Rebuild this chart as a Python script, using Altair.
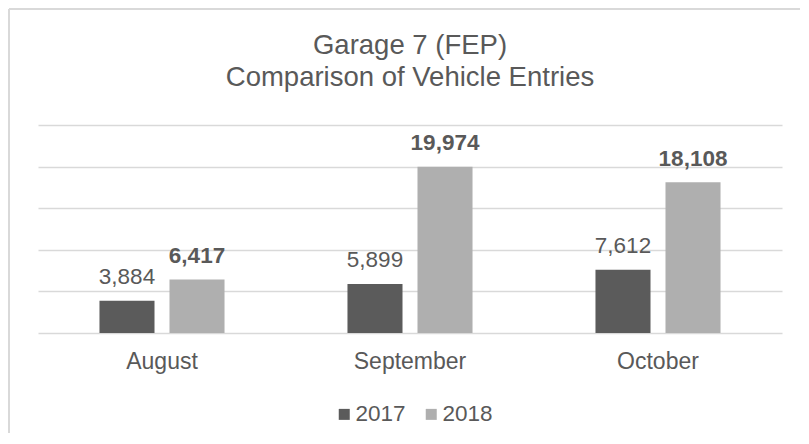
import altair as alt
import pandas as pd

months = ["August", "September", "October"]
years = ["2017", "2018"]
values_2017 = [3884, 5899, 7612]
values_2018 = [6417, 19974, 18108]

rows = []
for m, a, b in zip(months, values_2017, values_2018):
    rows.append({"month": m, "year": "2017", "value": a})
    rows.append({"month": m, "year": "2018", "value": b})
df = pd.DataFrame(rows)

FONT = "Liberation Sans"
TXT = "#595959"
GRID = "#d9d9d9"

x_enc = alt.X("month:N", sort=months,
              scale=alt.Scale(paddingInner=0, paddingOuter=0),
              axis=alt.Axis(title=None, ticks=False, tickSize=0, domain=False, grid=False,
                            labelAngle=0, labelFont=FONT, labelFontSize=23, labelColor=TXT,
                            labelPadding=17, labelBaseline="top"))
xo_enc = alt.XOffset("year:N", sort=years,
                     scale=alt.Scale(paddingInner=0.214, paddingOuter=0.878))
y_enc = alt.Y("value:Q", scale=alt.Scale(domain=[0, 25000], nice=False),
              axis=alt.Axis(title=None, labels=False, ticks=False, domain=False,
                            values=[0, 5000, 10000, 15000, 20000, 25000],
                            grid=True, gridColor=GRID, gridWidth=1.5))

bars = alt.Chart(df).mark_bar().encode(
    x=x_enc, xOffset=xo_enc, y=y_enc,
    color=alt.Color("year:N", sort=years,
                    scale=alt.Scale(domain=years, range=["#5b5b5b", "#afafaf"]),
                    legend=alt.Legend(title=None, orient="none", direction="horizontal",
                                      legendX=295, legendY=278,
                                      symbolType="square", symbolSize=121,
                                      symbolStrokeWidth=0, labelOffset=0,
                                      columnPadding=14,
                                      labelFont=FONT, labelFontSize=22.5, labelColor=TXT)),
)

text17 = alt.Chart(df).transform_filter(alt.datum.year == "2017").mark_text(
    font=FONT, fontSize=22.5, color=TXT, baseline="alphabetic", dy=-16.5
).encode(x=x_enc, xOffset=xo_enc, y=y_enc, text=alt.Text("value:Q", format=","))

text18 = alt.Chart(df).transform_filter(alt.datum.year == "2018").mark_text(
    font=FONT, fontSize=22.5, fontWeight="bold", color=TXT, baseline="alphabetic", dy=-16.5
).encode(x=x_enc, xOffset=xo_enc, y=y_enc, text=alt.Text("value:Q", format=","))

one = pd.DataFrame({"k": [0]})
border_top = alt.Chart(one).mark_rule(color=GRID, strokeWidth=2).encode(
    x=alt.value(-29), x2=alt.value(762), y=alt.value(-116))
border_left = alt.Chart(one).mark_rule(color=GRID, strokeWidth=2).encode(
    x=alt.value(-29), y=alt.value(-116), y2=alt.value(308))

chart = alt.layer(bars, text17, text18, border_top, border_left).properties(
    width=744, height=208,
    padding={"left": 0, "top": 0, "right": 0, "bottom": 0},
    title=alt.TitleParams(text=["Garage 7 (FEP)", "Comparison of Vehicle Entries"],
                          font=FONT, fontSize=27.5, fontWeight="normal", color=TXT,
                          lineHeight=32, anchor="middle", frame="group", offset=-83),
).configure(background="white", view=alt.ViewConfig(strokeWidth=0))

chart.save("out.html", embed_options={"renderer": "svg", "actions": False})
